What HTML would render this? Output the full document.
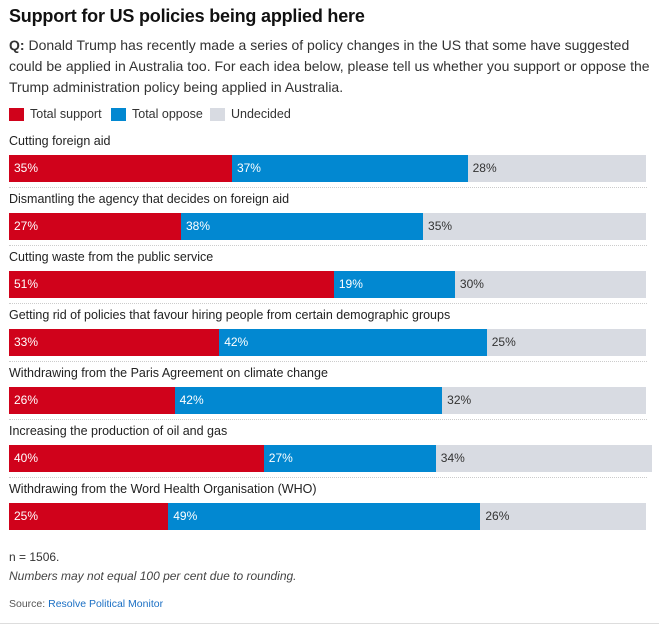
<!DOCTYPE html>
<html><head><meta charset="utf-8">
<style>
body{margin:0;width:659px;height:628px;background:#fff;font-family:"Liberation Sans",sans-serif;color:#222;position:relative;overflow:hidden}
.abs{position:absolute}
h1{position:absolute;left:9px;top:6px;margin:0;font-size:18px;font-weight:bold;color:#111;letter-spacing:-0.2px}
.q{left:9px;top:35px;width:645px;font-size:14px;line-height:21px;color:#333}
.leg{top:107px;font-size:12.5px;color:#333;display:flex;align-items:center}
.sw{width:15px;height:13px;display:inline-block;margin-right:6px}
.lab{font-size:12.5px;color:#222;left:9px;white-space:nowrap}
.seg{height:27px;font-size:12px;line-height:27px;box-sizing:border-box;padding-left:5px;color:#fff}
.sep{left:9px;width:638px;border-top:1px dotted #ccc;height:0}
</style></head><body>
<h1>Support for US policies being applied here</h1>
<div class="abs q"><b>Q:</b> Donald Trump has recently made a series of policy changes in the US that some have suggested could be applied in Australia too. For each idea below, please tell us whether you support or oppose the Trump administration policy being applied in Australia.</div>
<div class="abs leg" style="left:9px"><span class="sw" style="background:#d0021b"></span>Total support</div>
<div class="abs leg" style="left:111px"><span class="sw" style="background:#0288d1"></span>Total oppose</div>
<div class="abs leg" style="left:210px"><span class="sw" style="background:#d8dbe2"></span>Undecided</div>
<div id="chart"></div>
<div class="abs" style="left:9px;top:550px;font-size:12px;color:#333">n = 1506.</div>
<div class="abs" style="left:9px;top:569px;font-size:12px;color:#444;font-style:italic">Numbers may not equal 100 per cent due to rounding.</div>
<div class="abs" style="left:9px;top:598px;font-size:10.5px;color:#555">Source: <span style="color:#1a6fc4">Resolve Political Monitor</span></div>
<div class="abs" style="left:0;top:623px;width:659px;height:1px;background:#ddd"></div>
<script>
const categories=["Cutting foreign aid","Dismantling the agency that decides on foreign aid","Cutting waste from the public service","Getting rid of policies that favour hiring people from certain demographic groups","Withdrawing from the Paris Agreement on climate change","Increasing the production of oil and gas","Withdrawing from the Word Health Organisation (WHO)"];
const support=[35,27,51,33,26,40,25];
const oppose=[37,38,19,42,42,27,49];
const undecided=[28,35,30,25,32,34,26];
const chart=document.getElementById('chart');
const x0=9, pxPer=6.37, top0=134, step=58;
function xs(v){return v*pxPer;}
categories.forEach((c,i)=>{
  const y=top0+i*step;
  const l=document.createElement('div');
  l.className='abs lab';l.style.top=y+'px';l.textContent=c;
  
  
  chart.appendChild(l);
  let x=x0;
  [[support[i],'#d0021b','#fff','bar-support'],[oppose[i],'#0288d1','#fff','bar-oppose'],[undecided[i],'#d8dbe2','#333','bar-undecided']].forEach(([v,bg,fg,nm])=>{
    const s=document.createElement('div');
    s.className='abs seg';
    s.style.left=x+'px';s.style.top=(y+21)+'px';s.style.width=xs(v)+'px';
    s.style.background=bg;s.style.color=fg;
    s.textContent=v+'%';
    
    
    chart.appendChild(s);
    x+=xs(v);
  });
  if(i<categories.length-1){
    const sp=document.createElement('div');
    sp.className='abs sep';sp.style.top=(y+53)+'px';
    
    
    chart.appendChild(sp);
  }
});
</script>
</body></html>
